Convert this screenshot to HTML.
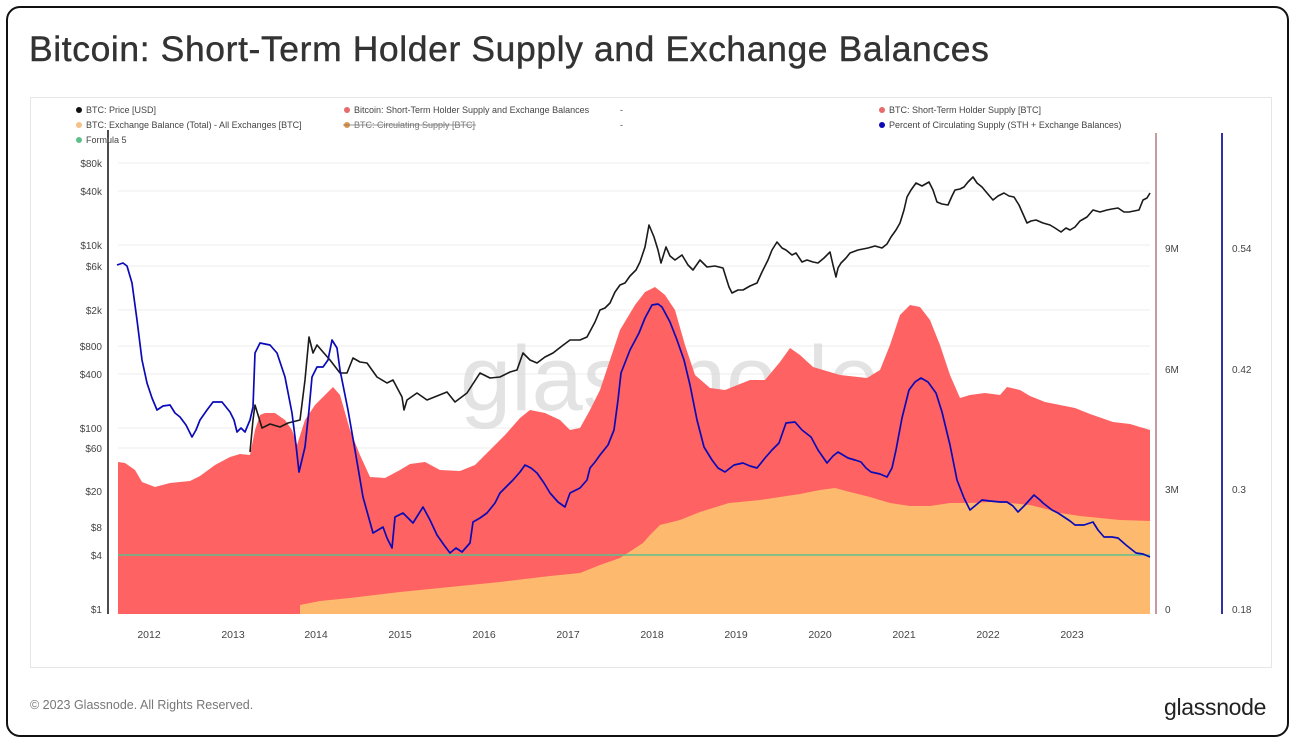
<!DOCTYPE html>
<html><head><meta charset="utf-8"><style>
html,body{margin:0;padding:0;background:#fff;}
body{width:1300px;height:748px;position:relative;overflow:hidden;font-family:"Liberation Sans",sans-serif;}
.frame{position:absolute;left:6px;top:6px;width:1283px;height:731px;border:2px solid #111;border-radius:14px;box-sizing:border-box;}
.title{position:absolute;left:29px;top:29px;font-size:35.5px;font-weight:normal;color:#333;letter-spacing:0.6px;white-space:nowrap;-webkit-text-stroke:0.4px #333;}
.panel{position:absolute;left:30px;top:97px;width:1242px;height:571px;border:1px solid #e6e6e6;box-sizing:border-box;}
.foot{position:absolute;left:30px;top:698px;font-size:12.5px;color:#777;}
.logo{position:absolute;left:1164px;top:694px;font-size:23px;color:#222;letter-spacing:-0.3px;}
</style></head><body>
<div class="frame"></div>
<div class="title">Bitcoin: Short-Term Holder Supply and Exchange Balances</div>
<div class="panel"></div>
<svg style="position:absolute;left:0;top:0" width="1300" height="748" font-family="Liberation Sans, sans-serif">
<g stroke="#ececec" stroke-width="1">
<line x1="118" x2="1150" y1="163" y2="163"/><line x1="118" x2="1150" y1="191" y2="191"/>
<line x1="118" x2="1150" y1="245" y2="245"/><line x1="118" x2="1150" y1="266" y2="266"/>
<line x1="118" x2="1150" y1="310" y2="310"/><line x1="118" x2="1150" y1="346" y2="346"/>
<line x1="118" x2="1150" y1="374" y2="374"/><line x1="118" x2="1150" y1="428" y2="428"/>
<line x1="118" x2="1150" y1="448" y2="448"/><line x1="118" x2="1150" y1="491" y2="491"/>
<line x1="118" x2="1150" y1="527" y2="527"/><line x1="118" x2="1150" y1="609" y2="609"/>
</g>
<text x="460" y="410" font-size="92" fill="#d8d8d8" opacity="0.7">glassnode</text>
<polygon fill="#fe6262" points="118,614 118,462 125,463 135,470 142,482 155,487 170,483 190,481 200,476 215,465 230,457 240,454 250,455 255,430 260,415 265,413 275,413 285,420 292,430 297,445 305,420 315,405 325,395 333,387 340,395 350,430 360,455 370,477 385,478 400,470 410,464 425,462 440,470 460,471 475,465 490,450 505,435 520,418 530,410 545,413 560,420 570,430 580,428 590,410 600,390 610,360 620,330 635,305 645,292 655,287 665,295 675,310 685,345 695,375 710,388 725,390 750,380 765,380 780,362 790,348 800,355 813,367 840,375 867,378 880,370 890,345 900,315 910,305 920,307 930,320 940,345 950,375 960,398 970,395 985,393 1000,395 1007,387 1020,390 1030,396 1045,402 1060,405 1075,408 1090,414 1113,422 1130,424 1150,430 1150,614"/>
<polygon fill="#fdba6e" points="118,614 300,614 300,605 320,601 350,598 400,592 450,587 500,582 550,576 580,573 600,565 620,558 643,543 650,535 660,525 680,520 700,512 729,503 740,502 760,500 780,497 800,494 820,490 835,488 850,492 870,497 890,503 910,506 930,506 950,503 970,503 990,502 1010,503 1030,505 1050,510 1060,513 1080,516 1100,518 1120,520 1150,521 1150,614"/>
<line x1="118" x2="1150" y1="555" y2="555" stroke="#5fbf8a" stroke-width="1.5"/>
<polyline fill="none" stroke="#1a1a1a" stroke-width="1.6" stroke-linejoin="round" points="250,452 253,420 255,405 262,428 270,424 280,427 288,423 300,420 305,380 309,337 313,353 317,345 323,352 330,360 340,373 347,373 353,358 360,362 367,363 377,377 387,383 393,380 402,397 404,410 407,400 417,393 427,400 437,396 447,392 455,402 467,393 480,373 490,378 500,377 510,372 517,370 523,353 530,360 537,363 545,357 553,353 562,346 570,340 580,340 587,337 595,322 600,310 605,308 610,303 615,292 620,285 625,283 630,276 636,270 640,262 645,247 649,225 654,237 658,250 661,263 666,247 670,256 675,260 682,255 688,265 693,270 700,260 707,267 715,266 723,268 729,287 732,293 738,290 743,290 750,286 757,283 762,272 768,260 772,250 777,242 782,248 786,250 792,255 796,253 802,262 807,260 813,262 818,263 824,258 830,252 833,265 836,277 838,268 841,263 846,258 850,253 858,250 868,248 875,246 882,248 887,244 891,237 896,230 900,223 904,210 907,197 911,190 916,183 922,186 929,182 933,190 937,202 942,204 948,205 952,196 955,190 960,189 964,187 968,182 973,177 977,183 982,187 987,193 993,200 998,196 1004,193 1009,196 1014,197 1019,205 1023,214 1027,223 1031,221 1036,220 1043,223 1050,225 1055,228 1061,232 1066,228 1070,230 1075,227 1080,221 1087,217 1093,210 1100,212 1107,210 1112,209 1118,208 1124,212 1129,212 1134,211 1139,210 1143,200 1147,198 1150,193"/>
<polyline fill="none" stroke="#0a0ab8" stroke-width="1.7" stroke-linejoin="round" points="117,265 123,263 127,266 132,283 137,320 142,360 147,383 152,398 157,410 163,406 170,405 175,413 180,417 186,425 192,437 196,430 200,420 207,410 213,402 222,402 230,412 234,420 237,432 241,428 245,432 250,420 253,407 255,353 260,343 270,345 277,353 285,377 292,413 296,445 299,472 305,447 309,410 312,377 317,367 323,367 328,360 332,340 337,348 340,370 348,410 355,450 363,497 368,515 373,533 383,527 387,538 392,548 395,517 403,513 408,518 413,523 423,507 430,520 437,535 444,545 450,553 456,548 462,552 470,543 473,522 480,518 487,513 495,503 500,493 507,486 513,480 520,472 525,465 531,468 537,473 544,483 550,493 558,502 565,507 570,493 580,488 587,480 590,468 595,462 600,455 608,445 614,430 618,400 621,373 630,350 639,333 645,318 652,305 658,304 662,307 670,322 677,340 684,360 690,385 697,420 704,447 712,460 718,468 725,472 734,465 743,463 750,466 757,468 765,458 772,450 779,443 786,423 795,422 802,430 811,437 818,450 827,463 833,456 838,452 848,458 855,460 861,462 866,468 871,472 880,474 887,477 892,468 896,450 902,418 909,390 915,382 921,378 928,382 936,393 942,412 950,445 957,480 964,498 970,510 976,505 982,500 990,501 1000,502 1007,502 1013,506 1018,512 1025,505 1034,495 1040,500 1043,503 1052,510 1058,513 1064,517 1070,521 1075,525 1084,525 1093,522 1098,530 1104,537 1112,537 1118,538 1126,545 1136,553 1143,554 1150,557"/>
<line x1="108" x2="108" y1="130" y2="614" stroke="#111" stroke-width="1.5"/>
<line x1="1156" x2="1156" y1="133" y2="614" stroke="#b27a7a" stroke-width="1.5"/>
<line x1="1222" x2="1222" y1="133" y2="614" stroke="#1a1a9a" stroke-width="1.8"/>
<g font-size="10" fill="#444" text-anchor="end">
<text x="102" y="167">$80k</text><text x="102" y="195">$40k</text><text x="102" y="249">$10k</text><text x="102" y="270">$6k</text>
<text x="102" y="314">$2k</text><text x="102" y="350">$800</text><text x="102" y="378">$400</text><text x="102" y="432">$100</text>
<text x="102" y="452">$60</text><text x="102" y="495">$20</text><text x="102" y="531">$8</text><text x="102" y="559">$4</text><text x="102" y="613">$1</text>
</g>
<g font-size="10" fill="#444">
<text x="1165" y="252">9M</text><text x="1165" y="373">6M</text><text x="1165" y="493">3M</text><text x="1165" y="613">0</text>
<text x="1232" y="252">0.54</text><text x="1232" y="373">0.42</text><text x="1232" y="493">0.3</text><text x="1232" y="613">0.18</text>
</g>
<g font-size="10.5" fill="#444" text-anchor="middle">
<text x="149" y="638">2012</text><text x="233" y="638">2013</text><text x="316" y="638">2014</text><text x="400" y="638">2015</text>
<text x="484" y="638">2016</text><text x="568" y="638">2017</text><text x="652" y="638">2018</text><text x="736" y="638">2019</text>
<text x="820" y="638">2020</text><text x="904" y="638">2021</text><text x="988" y="638">2022</text><text x="1072" y="638">2023</text>
</g>
<g font-size="9" fill="#444">
<circle cx="79" cy="110" r="3" fill="#111"/><text x="86" y="113">BTC: Price [USD]</text>
<circle cx="79" cy="125" r="3" fill="#f5c08a"/><text x="86" y="128">BTC: Exchange Balance (Total) - All Exchanges [BTC]</text>
<circle cx="79" cy="140" r="3" fill="#5fbf8a"/><text x="86" y="143">Formula 5</text>
<circle cx="347" cy="110" r="3" fill="#e86a6a"/><text x="354" y="113">Bitcoin: Short-Term Holder Supply and Exchange Balances</text>
<circle cx="347" cy="125" r="3" fill="#e0944a"/><text x="354" y="128" fill="#777">BTC: Circulating Supply [BTC]</text>
<line x1="343" x2="476" y1="125" y2="125" stroke="#777" stroke-width="0.8"/>
<text x="620" y="113">-</text><text x="620" y="128">-</text>
<circle cx="882" cy="110" r="3" fill="#e86a6a"/><text x="889" y="113">BTC: Short-Term Holder Supply [BTC]</text>
<circle cx="882" cy="125" r="3" fill="#0a0ab8"/><text x="889" y="128">Percent of Circulating Supply (STH + Exchange Balances)</text>
</g>
</svg>
<div class="foot">© 2023 Glassnode. All Rights Reserved.</div>
<div class="logo">glassnode</div>
</body></html>
